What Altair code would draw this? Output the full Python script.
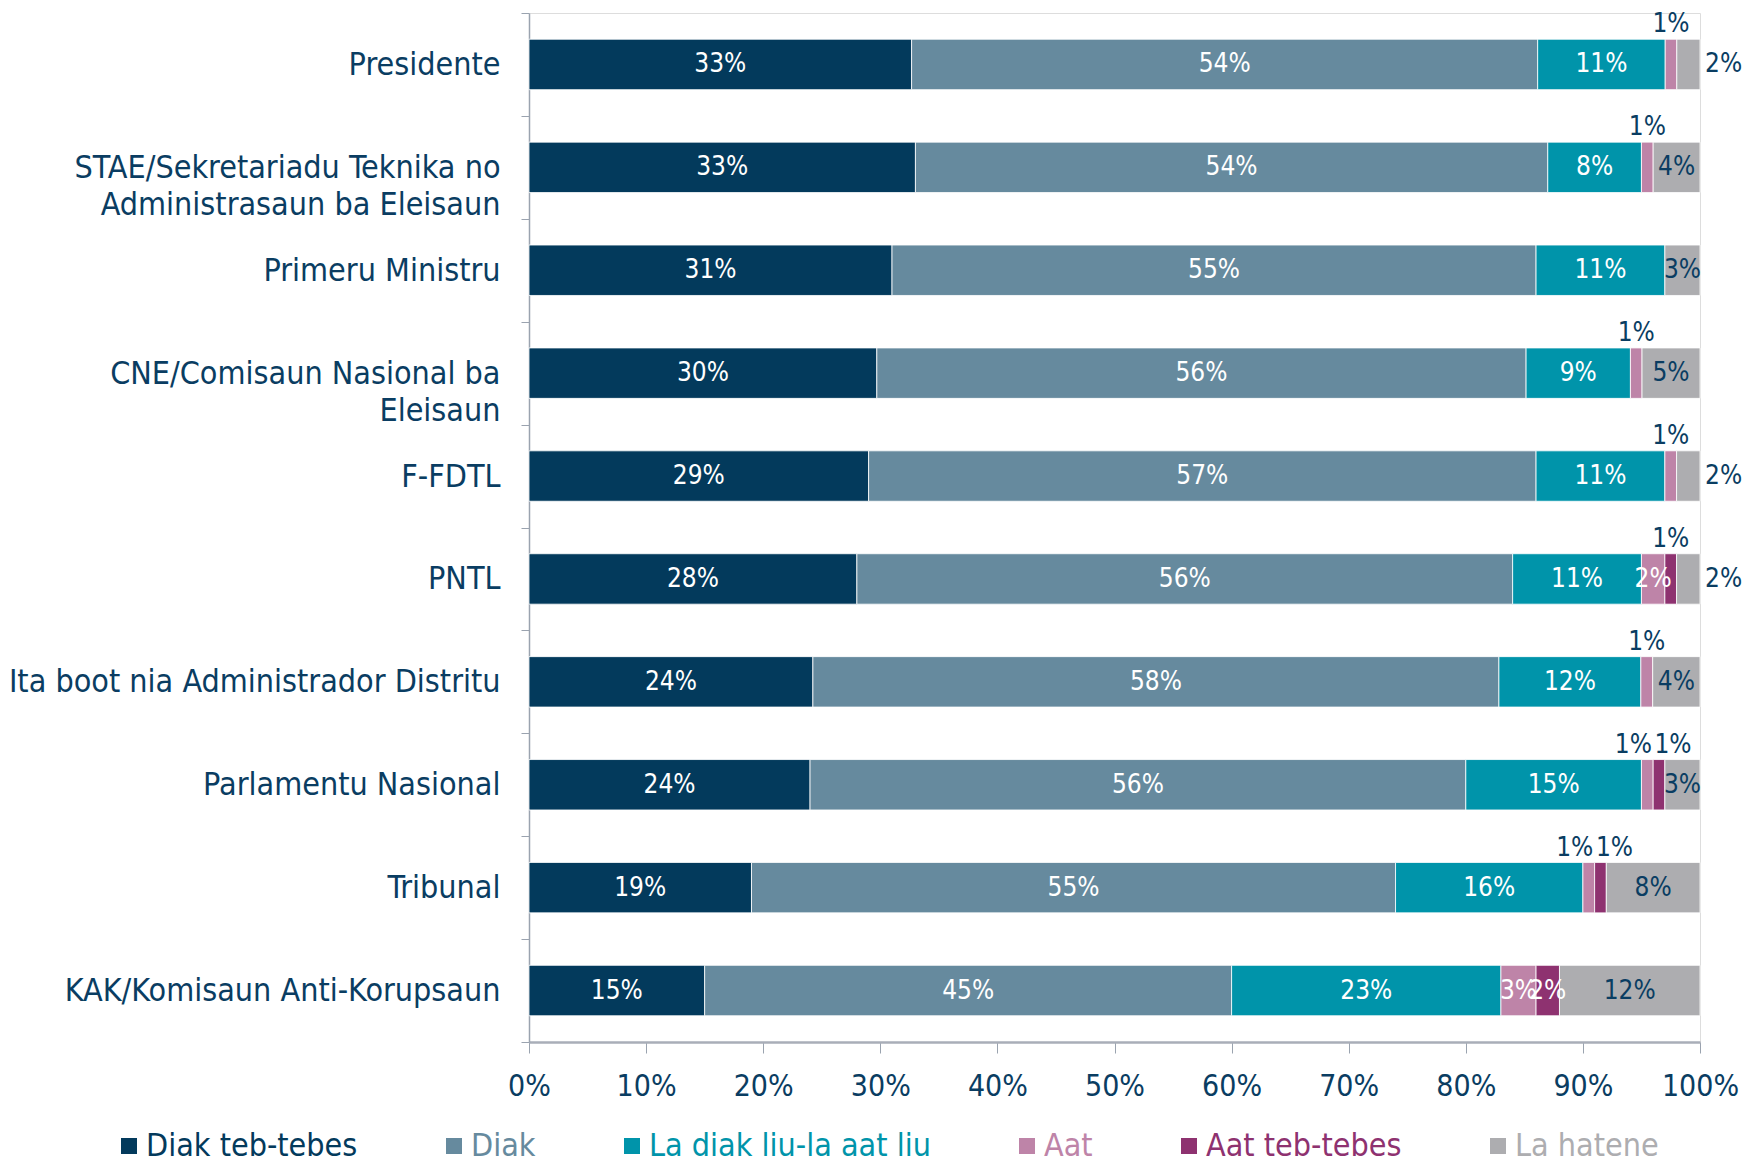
import altair as alt
import pandas as pd

categories = [
    "Presidente",
    "STAE/Sekretariadu Teknika no|Administrasaun ba Eleisaun",
    "Primeru Ministru",
    "CNE/Comisaun Nasional ba|Eleisaun",
    "F-FDTL",
    "PNTL",
    "Ita boot nia Administrador Distritu",
    "Parlamentu Nasional",
    "Tribunal",
    "KAK/Komisaun Anti-Korupsaun",
]
series = ["Diak teb-tebes", "Diak", "La diak liu-la aat liu", "Aat", "Aat teb-tebes", "La hatene"]
colors = ["#033A5C", "#668A9E", "#0094AA", "#BE84A8", "#8E3270", "#ADADB0"]

diak_teb_tebes = [33, 33, 31, 30, 29, 28, 24, 24, 19, 15]
diak = [54, 54, 55, 56, 57, 56, 58, 56, 55, 45]
la_diak_liu = [11, 8, 11, 9, 11, 11, 12, 15, 16, 23]
aat = [1, 1, 0, 1, 1, 2, 1, 1, 1, 3]
aat_teb_tebes = [0, 0, 0, 0, 0, 1, 0, 1, 1, 2]
la_hatene = [2, 4, 3, 5, 2, 2, 4, 3, 8, 12]

x_ticks = [0, 0.1, 0.2, 0.3, 0.4, 0.5, 0.6, 0.7, 0.8, 0.9, 1.0]

values = [diak_teb_tebes, diak, la_diak_liu, aat, aat_teb_tebes, la_hatene]
rows = []
for si, (s, vals) in enumerate(zip(series, values)):
    for c, v in zip(categories, vals):
        rows.append({"category": c, "series": s, "value": v, "order": si})
df = pd.DataFrame(rows)

NAVY = "#0A3D62"
FONT = "DejaVu Sans Condensed"
AXIS_GREY = "#9AA3AF"

label_color_expr = ""
for s, col in zip(series[:-1], colors[:-1]):
    label_color_expr += f"datum.label == '{s}' ? '{col}' : "
label_color_expr += f"'{colors[-1]}'"

base = (
    alt.Chart(df)
    .transform_filter("datum.value > 0")
    .transform_stack(
        stack="value",
        groupby=["category"],
        as_=["v0", "v1"],
        offset="normalize",
        sort=[alt.SortField("order", order="ascending")],
    )
    .transform_calculate(
        mid="(datum.v0 + datum.v1) / 2",
        label="datum.value + '%'",
        place="((datum.series == 'Aat' || datum.series == 'Aat teb-tebes') && datum.value <= 1) ? 'above' : ((datum.series == 'La hatene' && datum.value <= 2) ? 'right' : 'inside')",
        isabove="((datum.series == 'Aat' || datum.series == 'Aat teb-tebes') && datum.value <= 1) ? 1 : 0",
    )
    .transform_joinaggregate(n_above="sum(isabove)", groupby=["category"])
    .transform_calculate(
        shift="datum.place == 'above' && datum.n_above == 2 ? (datum.series == 'Aat' ? 'left' : 'rshift') : 'none'"
    )
)

y_enc = alt.Y(
    "category:N",
    sort=categories,
    scale=alt.Scale(paddingInner=0, paddingOuter=0),
    axis=alt.Axis(
        title=None,
        labelExpr="split(datum.label, '|')",
        labelFont=FONT,
        labelFontSize=32,
        labelColor=NAVY,
        labelLimit=0,
        labelLineHeight=37,
        labelPadding=21,
        tickBand="extent",
        tickSize=8,
        tickColor=AXIS_GREY,
        domainColor=AXIS_GREY,
        domainWidth=1.5,
    ),
)

bars = base.mark_bar(
    height=alt.RelativeBandSize(0.49), stroke="#FFFFFF", strokeWidth=1, strokeOpacity=0.8
).encode(
    x=alt.X(
        "v0:Q",
        scale=alt.Scale(domain=[0, 1]),
        axis=alt.Axis(
            title=None,
            format="%",
            values=x_ticks,
            grid=False,
            labelFlush=False,
            tickSize=11,
            tickColor=AXIS_GREY,
            domainColor="#A9AEB8",
            domainWidth=2.5,
            labelFont=FONT,
            labelFontSize=30,
            labelColor=NAVY,
            labelPadding=18,
        ),
    ),
    x2="v1:Q",
    y=y_enc,
    color=alt.Color(
        "series:N",
        scale=alt.Scale(domain=series, range=colors),
        legend=alt.Legend(
            title=None,
            orient="none",
            legendX=-416,
            legendY=1117,
            direction="horizontal",
            symbolType="square",
            symbolSize=256,
            symbolStrokeWidth=0,
            labelFont=FONT,
            labelFontSize=32,
            labelColor=alt.ExprRef(label_color_expr),
            labelLimit=500,
            labelOffset=1,
            columnPadding=80,
        ),
    ),
)

txt_kw = dict(font=FONT, fontSize=26, baseline="middle")
y_txt = alt.Y("category:N", sort=categories)

inside_white = base.transform_filter(
    "datum.place == 'inside' && datum.series != 'La hatene'"
).mark_text(color="white", align="center", **txt_kw).encode(
    x="mid:Q", y=y_txt, text="label:N"
)
inside_dark = base.transform_filter(
    "datum.place == 'inside' && datum.series == 'La hatene'"
).mark_text(color=NAVY, align="center", **txt_kw).encode(
    x="mid:Q", y=y_txt, text="label:N"
)
above_c = base.transform_filter(
    "datum.place == 'above' && datum.shift == 'none'"
).mark_text(color=NAVY, align="center", dy=-40, **txt_kw).encode(
    x="mid:Q", y=y_txt, text="label:N"
)
above_l = base.transform_filter(
    "datum.place == 'above' && datum.shift == 'left'"
).mark_text(color=NAVY, align="center", dy=-40, dx=-14, **txt_kw).encode(
    x="mid:Q", y=y_txt, text="label:N"
)
above_r = base.transform_filter(
    "datum.place == 'above' && datum.shift == 'rshift'"
).mark_text(color=NAVY, align="center", dy=-40, dx=14, **txt_kw).encode(
    x="mid:Q", y=y_txt, text="label:N"
)
right = base.transform_filter("datum.place == 'right'").mark_text(
    color=NAVY, align="left", dx=5, **txt_kw
).encode(x="v1:Q", y=y_txt, text="label:N")

chart = (
    alt.layer(bars, inside_white, inside_dark, above_c, above_l, above_r, right)
    .properties(
        width=1171,
        height=1029,
        autosize=alt.AutoSizeParams(type="none"),
        padding={"left": 521, "top": 5, "right": 44, "bottom": 120},
    )
    .configure_view(strokeWidth=0)
    .configure(background="white")
)

chart.save("out.html", embed_options={"renderer": "svg", "actions": False})
